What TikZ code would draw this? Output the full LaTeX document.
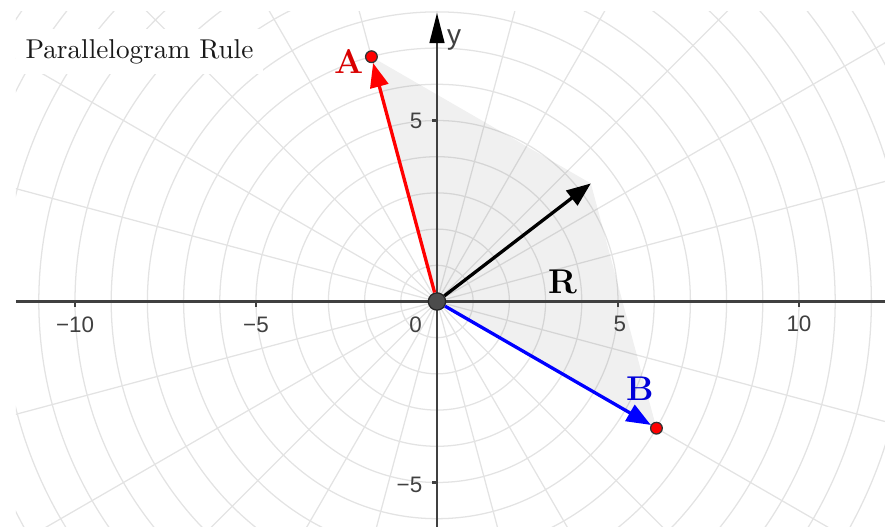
\documentclass[tikz,border=0pt]{standalone}
\usepackage{fontspec}
\newfontfamily\ticksans{Liberation Sans}
\usetikzlibrary{arrows.meta,calc}

\begin{document}
\begin{tikzpicture}[
  x=0.5cm, y=0.5cm,
  gridline/.style={draw=black!11, line width=0.5pt},
  sumarea/.style={fill=black, fill opacity=0.06},
  axis/.style={draw=black!75, line width=0.8pt},
  ticklabel/.style={font=\ticksans\fontsize{8.8}{10}\selectfont, text=black!75, inner sep=0pt},
  vector/.style={line width=1.3pt, -{Triangle[length=9.5pt, width=7.2pt]}},
  tippoint/.style={circle, draw=black!80, line width=0.5pt, fill=red, minimum size=4.6pt, inner sep=0pt},
  originpoint/.style={circle, draw=black!85, line width=0.5pt, fill=black!70, minimum size=6.8pt, inner sep=0pt},
  veclabel/.style={font=\fontsize{13.5}{16}\selectfont\bfseries, inner sep=0pt},
  titlebox/.style={fill=white, minimum width=3.41cm, minimum height=0.62cm, inner sep=0pt, font=\fontsize{10.7}{12}\selectfont, text=black!90}
]
  \useasboundingbox (-12.072,-6.229) rectangle (12.376,8.329);

  % Polar grid, clipped to the graph view
  \begin{scope}
    \clip (-11.63,-6.229) rectangle (12.376,8.0);
    \foreach \r in {1,...,15}
      \draw[gridline] (0,0) circle (\r);
    \foreach \a in {0,15,...,345}
      \draw[gridline] (0,0) -- (\a:16);
  \end{scope}

  % Parallelogram spanned by A and B
  \coordinate (o) at (0,0);
  \coordinate (a) at (105:7);
  \coordinate (b) at (-30:7);
  \coordinate (R) at ($(a)+(b)$);
  \fill[sumarea] (o) -- (a) -- (R) -- (b) -- cycle;

  % Axes with ticks
  \coordinate (xl) at (-11.63,0);
  \coordinate (xr) at (12.376,0);
  \coordinate (yb) at (0,-6.229);
  \coordinate (yt) at (0,7.97);
  \draw[axis] (xl) -- (xr);
  \draw[axis, -{Triangle[length=11.8pt, width=5.8pt, color=black]}] (yb) -- (yt);
  \foreach \t in {-10,-5,5,10}
    \draw[axis] (\t,0) -- (\t,-0.14);
  \foreach \t in {-5,5}
    \draw[axis] (0,\t) -- (-0.14,\t);

  \node[ticklabel] (xm10) at (-10,-0.65) {−10};
  \node[ticklabel] (xm5) at (-5,-0.65) {−5};
  \node[ticklabel] (x0) at (-0.59,-0.65) {0};
  \node[ticklabel] (x5) at (5.05,-0.62) {5};
  \node[ticklabel] (x10) at (10,-0.62) {10};
  \node[ticklabel] (y5) at (-0.58,4.99) {5};
  \node[ticklabel] (ym5) at (-0.76,-5.08) {−5};
  \node[ticklabel, font=\ticksans\fontsize{11}{13}\selectfont] (ylab) at (0.47,7.22) {y};

  % Points and vectors
  \node[originpoint] (O) at (o) {};
  \node[tippoint] (A) at (a) {};
  \node[tippoint] (B) at (b) {};
  \draw[vector, red] (O) -- (A);
  \draw[vector, blue] (O) -- (B);
  \draw[vector, black] (O) -- (R);

  \node[veclabel, text=red!85!black] (Alab) at (-2.43,6.64) {A};
  \node[veclabel, text=blue!85!black] (Blab) at (5.61,-2.42) {B};
  \node[veclabel] (Rlab) at (3.48,0.54) {R};

  % Title
  \node[titlebox] (title) at (-8.22,6.9) {Parallelogram Rule};
\end{tikzpicture}
\end{document}
